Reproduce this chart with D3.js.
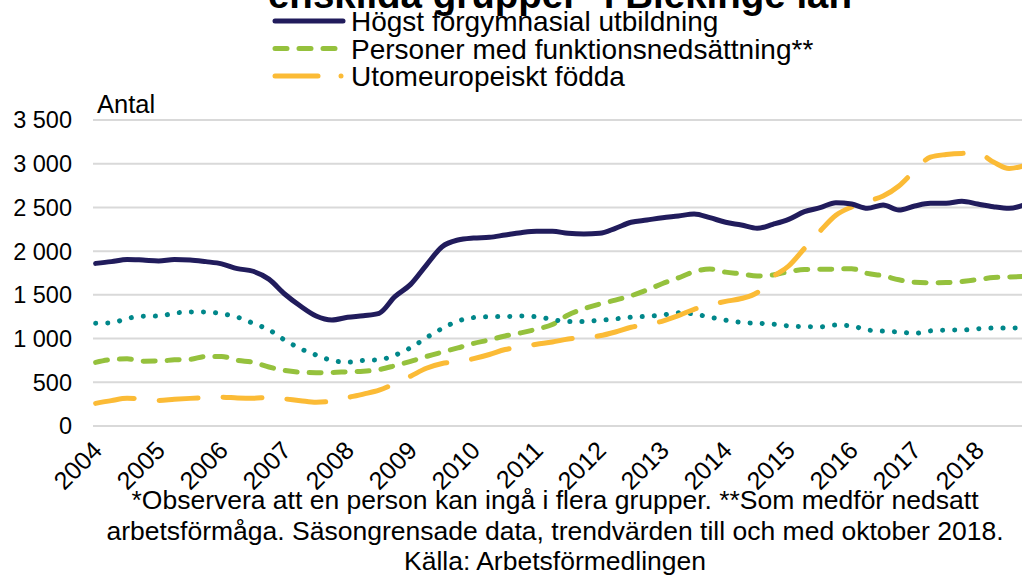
<!DOCTYPE html>
<html>
<head>
<meta charset="utf-8">
<script src="https://d3js.org/d3.v7.min.js"></script>
<style>
  body { margin: 0; background: #fff; }
  svg { display: block; font-family: "Liberation Sans", Arial, sans-serif; }
</style>
</head>
<body>
<div id="chartId"></div>
<script>
// Kvartalsvärden (jan, apr, jul, okt) från jan 2004 till okt 2018
var yearLabels = ["2004", "2005", "2006", "2007", "2008", "2009", "2010", "2011",
                  "2012", "2013", "2014", "2015", "2016", "2017", "2018"];

var hogstForgymnasial = [1860, 1880, 1905, 1898, 1888, 1905, 1900, 1880, 1855, 1800,
                         1770, 1680, 1510, 1372, 1258, 1212, 1243, 1262, 1289, 1479,
                         1620, 1841, 2051, 2127, 2150, 2158, 2185, 2211, 2227, 2227,
                         2204, 2196, 2204, 2261, 2330, 2356, 2383, 2402, 2425, 2383,
                         2330, 2299, 2261, 2307, 2364, 2451, 2497, 2554, 2539, 2490,
                         2528, 2470, 2516, 2547, 2547, 2570, 2539, 2508, 2490, 2530];

var funktionsnedsattning = [728, 760, 768, 742, 743, 757, 763, 795, 795, 752,
                            728, 675, 635, 615, 610, 612, 620, 626, 645, 690,
                            740, 795, 845, 893, 945, 985, 1030, 1065, 1108, 1160,
                            1270, 1340, 1395, 1440, 1490, 1555, 1630, 1695, 1765, 1795,
                            1760, 1740, 1716, 1728, 1765, 1790, 1793, 1795, 1800, 1745,
                            1718, 1672, 1645, 1639, 1640, 1652, 1675, 1698, 1705, 1710];

var utomeuropeiskt = [259, 290, 316, 310, 292, 305, 316, 325, 330, 320,
                      316, 328, 310, 290, 272, 285, 325, 365, 410, 485,
                      570, 660, 715, 735, 770, 818, 875, 905, 935, 960,
                      995, 1012, 1032, 1075, 1130, 1160, 1200, 1262, 1335, 1385,
                      1425, 1458, 1525, 1705, 1830, 2030, 2230, 2410, 2505, 2570,
                      2630, 2745, 2920, 3075, 3105, 3118, 3120, 3020, 2945, 2980];

// fjärde serien (prickad), saknar synlig förklaring i bilden
var fjardeGruppen = [1175, 1180, 1230, 1255, 1258, 1290, 1305, 1303, 1285, 1245,
                     1175, 1100, 984, 885, 812, 750, 730, 750, 757, 810,
                     895, 1010, 1115, 1200, 1240, 1250, 1252, 1257, 1250, 1218,
                     1195, 1195, 1209, 1225, 1245, 1255, 1270, 1295, 1280, 1245,
                     1210, 1185, 1176, 1165, 1145, 1136, 1135, 1155, 1145, 1098,
                     1085, 1075, 1060, 1088, 1096, 1098, 1112, 1120, 1120, 1130];

var yTicks = [0, 500, 1000, 1500, 2000, 2500, 3000, 3500];

var footnoteLines = [
  "*Observera att en person kan ingå i flera grupper. **Som medför nedsatt",
  "arbetsförmåga. Säsongrensade data, trendvärden till och med oktober 2018.",
  "Källa: Arbetsförmedlingen"
];

var series = [
  { name: "Personer med funktionsnedsättning**", values: funktionsnedsattning, color: "#95c13d", dash: "12,12" },
  { name: "fjarde", values: fjardeGruppen, color: "#00878a", dash: "0.1,12" },
  { name: "Utomeuropeiskt födda", values: utomeuropeiskt, color: "#fbbb36", dash: "39,25" },
  { name: "Högst förgymnasial utbildning", values: hogstForgymnasial, color: "#211c5c", dash: null }
];

var width = 1022, height = 578;

var svg = d3.select("#chartId").append("svg")
    .attr("width", width)
    .attr("height", height);

// månadsindex 0 = jan 2004
var x = d3.scaleLinear().domain([-0.5, 177.5]).range([93, 1027.5]);
var y = d3.scaleLinear().domain([0, 3500]).range([426, 120]);

// title (top part falls outside the picture)
svg.append("text")
    .attr("x", 560)
    .attr("y", 8)
    .attr("text-anchor", "middle")
    .style("font-weight", "bold")
    .style("font-size", "38.5px")
    .text("enskilda grupper* i Blekinge län");

// gridlines
svg.append("g").selectAll("line")
    .data(yTicks).enter()
    .append("line")
    .attr("x1", 93)
    .attr("x2", width)
    .attr("y1", function(d) { return y(d); })
    .attr("y2", function(d) { return y(d); })
    .attr("stroke", "#d9d9d9")
    .attr("stroke-width", 2);

// y labels
var fmt = function(d) { return d3.format(",")(d).replace(",", " "); };
svg.append("g").selectAll("text")
    .data(yTicks).enter()
    .append("text")
    .attr("x", 72)
    .attr("y", function(d) { return y(d); })
    .attr("dy", "0.36em")
    .attr("text-anchor", "end")
    .style("font-size", "23.5px")
    .text(fmt);

svg.append("text")
    .attr("x", 97)
    .attr("y", 113)
    .style("font-size", "25.5px")
    .text("Antal");

// x labels, one per year
svg.append("g").selectAll("text")
    .data(yearLabels).enter()
    .append("text")
    .attr("text-anchor", "end")
    .attr("transform", function(d, i) {
        return "translate(" + (x(i * 12) + 8) + ",452) rotate(-45)";
    })
    .style("font-size", "25px")
    .text(function(d) { return d; });

// lines
var line = d3.line()
    .x(function(d, i) { return x(i * 3); })
    .y(function(d) { return y(d); })
    .curve(d3.curveMonotoneX);

svg.append("g").selectAll("path")
    .data(series).enter()
    .append("path")
    .attr("d", function(d) { return line(d.values); })
    .attr("fill", "none")
    .attr("stroke", function(d) { return d.color; })
    .attr("stroke-width", 5)
    .attr("stroke-linecap", "round")
    .attr("stroke-linejoin", "round")
    .attr("stroke-dasharray", function(d) { return d.dash; });

// legend
var legendItems = [series[3], series[0], series[2]];
var legend = svg.append("g").selectAll("g")
    .data(legendItems).enter()
    .append("g")
    .attr("transform", function(d, i) { return "translate(0," + (21 + i * 27.5) + ")"; });

legend.append("line")
    .attr("x1", 275)
    .attr("x2", function(d) { return d.dash === "39,25" ? 318 : 343; })
    .attr("stroke", function(d) { return d.color; })
    .attr("stroke-width", 5)
    .attr("stroke-linecap", "round")
    .attr("stroke-dasharray", function(d) { return d.dash === "12,12" ? "12,12" : null; });

legend.filter(function(d) { return d.dash === "39,25"; })
    .append("circle")
    .attr("cx", 341)
    .attr("r", 2.5)
    .attr("fill", function(d) { return d.color; });

legend.append("text")
    .attr("x", 351)
    .attr("dy", "0.36em")
    .style("font-size", "28px")
    .text(function(d) { return d.name; });

// footnote
svg.append("g").selectAll("text")
    .data(footnoteLines).enter()
    .append("text")
    .attr("x", 555)
    .attr("y", function(d, i) { return 509 + i * 30.5; })
    .attr("text-anchor", "middle")
    .style("font-size", "26.5px")
    .text(function(d) { return d; });
</script>
</body>
</html>
